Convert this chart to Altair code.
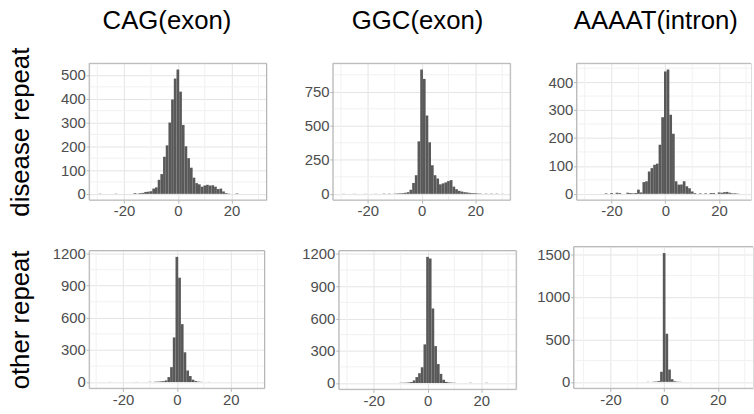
import altair as alt
import pandas as pd

# ---------------- data (bin centre -> count) ----------------
cag_dis_x = [-29, -23, -16, -15, -14, -13, -12, -11, -10, -9, -8, -7, -6, -5, -4, -3, -2, -1,
             0, 1, 2, 3, 4, 5, 6, 7, 8, 9, 10, 11, 12, 13, 14, 15, 16, 17, 18, 19, 22]
cag_dis_n = [1, 1, 3, 1, 3, 4, 8, 9, 11, 22, 27, 59, 83, 156, 204, 300, 397, 485,
             523, 430, 290, 200, 150, 110, 68, 45, 40, 30, 35, 38, 35, 36, 30, 20, 22, 10, 3, 1, 2]

ggc_dis_x = [-29, -25, -21, -17, -14, -12, -10, -9, -8, -7, -6, -5, -4, -3, -2, -1,
             0, 1, 2, 3, 4, 5, 6, 7, 8, 9, 10, 11, 12, 13, 14, 15, 16, 17, 18, 19, 20, 21, 22,
             24, 26, 28, 30]
ggc_dis_n = [1, 1, 1, 1, 2, 2, 2, 3, 4, 5, 8, 12, 30, 80, 137, 386,
             914, 845, 576, 379, 210, 137, 113, 70, 77, 84, 94, 101, 53, 34, 22, 17, 12, 10, 7, 5, 5, 3, 2,
             2, 2, 2, 1]

aaaat_dis_x = [-22, -20, -18, -17, -14, -13, -12, -11, -10, -9, -8, -7, -6, -5, -4, -3, -2, -1,
               0, 1, 2, 3, 4, 5, 6, 7, 8, 9, 10, 11,
               13, 15, 17, 18, 20, 21, 22, 23, 24, 25, 26, 27]
aaaat_dis_n = [2, 3, 4, 3, 4, 3, 2, 3, 15, 5, 42, 45, 80, 92, 104, 108, 176, 274,
               438, 445, 283, 215, 45, 33, 33, 45, 27, 20, 8, 3,
               2, 2, 3, 3, 5, 4, 6, 7, 4, 2, 2, 1]

cag_oth_x = [-25, -15, -10, -8, -7, -6, -5, -4, -3, -2, -1, 0, 1, 2, 3, 4, 5, 6, 7, 8, 9, 12]
cag_oth_n = [1, 1, 2, 3, 4, 6, 8, 15, 46, 139, 417, 1170, 975, 541, 278, 108, 56, 22, 9, 4, 2, 1]

ggc_oth_x = [-10, -9, -8, -7, -6, -5, -4, -3, -2, -1, 0, 1, 2, 3, 4, 5, 6, 7, 8, 9, 10, 16, 22]
ggc_oth_n = [2, 2, 3, 5, 9, 24, 55, 91, 146, 359, 1173, 1158, 693, 343, 176, 85, 30, 10, 5, 3, 2, 2, 2]

aaaat_oth_x = [-6, -4, -3, -2, -1, 0, 1, 2, 3, 4, 5, 6]
aaaat_oth_n = [2, 3, 5, 11, 119, 1515, 566, 145, 31, 8, 3, 2]

col_titles = ["CAG(exon)", "GGC(exon)", "AAAAT(intron)"]
row_titles = ["disease repeat", "other repeat"]

x_major = [-20, 0, 20]
x_minor = [-30, -10, 10, 30]
cag_dis_yt, cag_dis_ym = [0, 100, 200, 300, 400, 500], [50, 150, 250, 350, 450]
ggc_dis_yt, ggc_dis_ym = [0, 250, 500, 750], [125, 375, 625, 875]
aaaat_dis_yt, aaaat_dis_ym = [0, 100, 200, 300, 400], [50, 150, 250, 350, 450]
cag_oth_yt, cag_oth_ym = [0, 300, 600, 900, 1200], [150, 450, 750, 1050]
ggc_oth_yt, ggc_oth_ym = [0, 300, 600, 900, 1200], [150, 450, 750, 1050]
aaaat_oth_yt, aaaat_oth_ym = [0, 500, 1000, 1500], [250, 750, 1250]

# ---------------- style ----------------
FONT = "Liberation Sans"
BAR = "#595959"
BORDER = "#B3B3B3"
GRID = "#E4E4E4"
MINOR = "#F1F1F1"
LABEL = "#4D4D4D"


def panel(xs, ns, yt, ym, w, h, xdom, ext, col_title=None, col_dx=0, col_offset=29,
          row_title=None, open_right=False):
    df = pd.DataFrame({"x0": [x - 0.5 for x in xs], "x1": [x + 0.5 for x in xs],
                       "n": ns, "z": [0] * len(xs)})
    m = max(ns)
    xsc = alt.Scale(domain=xdom, nice=False, zero=False)
    ysc = alt.Scale(domain=[-0.05 * m, 1.05 * m], nice=False, zero=False)

    common = dict(labelFont=FONT, labelFontSize=15, labelColor=LABEL,
                  tickColor=BORDER, tickSize=3, tickWidth=1, labelPadding=1,
                  domain=False, grid=True, gridColor=GRID, gridWidth=1,
                  labelExpr="'' + datum.value")
    xaxis = alt.Axis(values=x_major, labelFlush=False, **common)
    ykw = dict(values=yt, minExtent=ext, **common)
    if row_title:
        ykw.update(titleFont=FONT, titleFontSize=26, titleColor="black",
                   titleFontWeight="normal", titlePadding=16)
    yaxis = alt.Axis(**ykw)
    ytitle = row_title if row_title else None

    def X(f):
        return alt.X(f, scale=xsc, axis=xaxis, title=None)

    def Y(f):
        return alt.Y(f, scale=ysc, axis=yaxis, title=ytitle)

    vmin = alt.Chart(pd.DataFrame({"v": x_minor})).mark_rule(
        color=MINOR, strokeWidth=1).encode(x=X("v:Q"))
    hmin = alt.Chart(pd.DataFrame({"v": ym})).mark_rule(
        color=MINOR, strokeWidth=1).encode(y=Y("v:Q"))
    bars = alt.Chart(df).mark_bar(color=BAR).encode(
        x=X("x0:Q"), x2="x1", y=Y("n:Q"), y2="z")

    one = pd.DataFrame({"a": [0]})
    edges = [
        alt.Chart(one).mark_rule(color=BORDER, strokeWidth=1).encode(
            x=alt.value(0), y=alt.value(0), y2=alt.value(h)),
        alt.Chart(one).mark_rule(color=BORDER, strokeWidth=1).encode(
            x=alt.value(0), x2=alt.value(w), y=alt.value(0)),
        alt.Chart(one).mark_rule(color=BORDER, strokeWidth=1).encode(
            x=alt.value(0), x2=alt.value(w), y=alt.value(h)),
    ]
    if not open_right:
        edges.append(alt.Chart(one).mark_rule(color=BORDER, strokeWidth=1).encode(
            x=alt.value(w), y=alt.value(0), y2=alt.value(h)))
    ch = alt.layer(vmin, hmin, bars, *edges).properties(width=w, height=h)
    if col_title:
        ch = ch.properties(title=alt.TitleParams(
            text=col_title, font=FONT, fontSize=26, fontWeight="normal", color="black",
            anchor="middle", frame="group", dx=col_dx, offset=col_offset))
    return ch


p1 = panel(cag_dis_x, cag_dis_n, cag_dis_yt, cag_dis_ym, 179, 138, [-33, 33], 40,
           col_title=col_titles[0], col_dx=-11, col_offset=13, row_title=row_titles[0])
p2 = panel(ggc_dis_x, ggc_dis_n, ggc_dis_yt, ggc_dis_ym, 179, 138, [-33, 33], 55,
           col_title=col_titles[1], col_dx=-4)
p3 = panel(aaaat_dis_x, aaaat_dis_n, aaaat_dis_yt, aaaat_dis_ym, 176, 138, [-33, 31.9], 55,
           col_title=col_titles[2], col_dx=-8, open_right=True)
p4 = panel(cag_oth_x, cag_oth_n, cag_oth_yt, cag_oth_ym, 177, 139, [-32.6, 32.6], 40,
           row_title=row_titles[1])
p5 = panel(ggc_oth_x, ggc_oth_n, ggc_oth_yt, ggc_oth_ym, 179, 140, [-33, 33], 61)
p6 = panel(aaaat_oth_x, aaaat_oth_n, aaaat_oth_yt, aaaat_oth_ym, 181, 143, [-33.7, 33.1], 46,
           open_right=True)

chart = alt.concat(p1, p2, p3, p4, p5, p6, columns=3,
                   spacing={"row": 26, "column": 10}).properties(
    align="none", bounds="full",
    padding={"left": 7, "top": 6, "right": 0, "bottom": 0},
    background="white",
).configure_view(stroke="transparent", strokeWidth=0).configure(font=FONT)

chart.save("out.html", embed_options={"renderer": "svg", "actions": False})
